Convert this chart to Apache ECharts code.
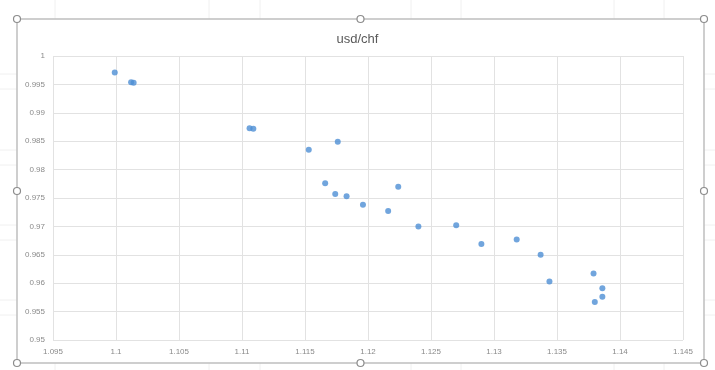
<!DOCTYPE html>
<html>
<head>
<meta charset="utf-8">
<title>usd/chf</title>
<script src="https://cdn.jsdelivr.net/npm/echarts@6/dist/echarts.min.js"></script>
<style>
  html, body { margin: 0; padding: 0; background: #ffffff; }
  #chart { width: 715px; height: 370px; }
</style>
</head>
<body>
<div id="chart"></div>
<script>
// EUR/USD vs USD/CHF observations
const chartTitle = 'usd/chf';
const eurUsd = [
  1.0999, 1.1012, 1.1014,
  1.1106, 1.1109,
  1.1153, 1.1176,
  1.1166, 1.1174, 1.1183, 1.1196,
  1.1224, 1.1216,
  1.1240, 1.1270,
  1.1290, 1.1318, 1.1337, 1.1344,
  1.1379, 1.1386, 1.1386, 1.1380
];
const usdChf = [
  0.9971, 0.9954, 0.9953,
  0.9873, 0.9872,
  0.9835, 0.9849,
  0.9776, 0.9757, 0.9753, 0.9738,
  0.9770, 0.9727,
  0.9700, 0.9702,
  0.9669, 0.9677, 0.9650, 0.9603,
  0.9617, 0.9591, 0.9576, 0.9567
];
const xAxisRange = [1.095, 1.145, 0.005];
const yAxisRange = [0.95, 1, 0.005];

const points = eurUsd.map((x, i) => [x, usdChf[i]]);

const chart = echarts.init(document.getElementById('chart'), null, { renderer: 'canvas' });

// chart-object frame with selection handles
const frame = { l: 17, t: 19, r: 704, b: 363 };
const midX = (frame.l + frame.r) / 2;
const midY = (frame.t + frame.b) / 2;
const handlePos = [
  [frame.l, frame.t], [midX, frame.t], [frame.r, frame.t],
  [frame.l, midY], [frame.r, midY],
  [frame.l, frame.b], [midX, frame.b], [frame.r, frame.b]
];
const sheetLines = [];
[55, 209, 260, 411, 461, 614, 664].forEach(x => {
  sheetLines.push({ type: 'line', silent: true, z: -1,
    shape: { x1: x, y1: 0, x2: x, y2: frame.t },
    style: { stroke: '#f0f0f0', lineWidth: 1 } });
  sheetLines.push({ type: 'line', silent: true, z: -1,
    shape: { x1: x, y1: frame.b, x2: x, y2: 370 },
    style: { stroke: '#f0f0f0', lineWidth: 1 } });
});
[74, 89, 150, 165, 225, 240, 300, 315].forEach(y => {
  sheetLines.push({ type: 'line', silent: true, z: -1,
    shape: { x1: 0, y1: y, x2: frame.l, y2: y },
    style: { stroke: '#f0f0f0', lineWidth: 1 } });
  sheetLines.push({ type: 'line', silent: true, z: -1,
    shape: { x1: frame.r, y1: y, x2: 715, y2: y },
    style: { stroke: '#f0f0f0', lineWidth: 1 } });
});

const graphics = sheetLines.concat([
  {
    type: 'rect', silent: true, z: 0,
    shape: { x: frame.l, y: frame.t, width: frame.r - frame.l, height: frame.b - frame.t },
    style: { fill: 'none', stroke: '#bfbfbf', lineWidth: 1.5 }
  }
]).concat(handlePos.map(p => ({
  type: 'circle', silent: true, z: 100,
  shape: { cx: p[0], cy: p[1], r: 3.5 },
  style: { fill: '#ffffff', stroke: '#8c8c8c', lineWidth: 1.2 }
})));

const axisLabelStyle = {
  color: '#8a8a8a',
  fontSize: 8,
  fontFamily: 'Liberation Sans, Arial, sans-serif'
};

chart.setOption({
  backgroundColor: '#ffffff',
  animation: false,
  title: {
    text: chartTitle,
    left: 'center',
    top: 28,
    textStyle: {
      color: '#595959',
      fontSize: 13,
      fontWeight: 'normal',
      fontFamily: 'Liberation Sans, Arial, sans-serif'
    }
  },
  graphic: graphics,
  grid: { left: 53, right: 32, top: 56, bottom: 30, containLabel: false },
  xAxis: {
    type: 'value',
    min: xAxisRange[0],
    max: xAxisRange[1],
    interval: xAxisRange[2],
    axisLine: { show: false },
    axisTick: { show: false },
    axisLabel: Object.assign({ margin: 8 }, axisLabelStyle),
    splitLine: { show: true, lineStyle: { color: '#e2e2e2', width: 1 } }
  },
  yAxis: {
    type: 'value',
    min: yAxisRange[0],
    max: yAxisRange[1],
    interval: yAxisRange[2],
    axisLine: { show: false },
    axisTick: { show: false },
    axisLabel: Object.assign({ margin: 8 }, axisLabelStyle),
    splitLine: { show: true, lineStyle: { color: '#e2e2e2', width: 1 } }
  },
  series: [{
    type: 'scatter',
    name: chartTitle,
    data: points,
    symbol: 'circle',
    symbolSize: 6,
    itemStyle: { color: '#4e8fd4' }
  }]
});
</script>
</body>
</html>
